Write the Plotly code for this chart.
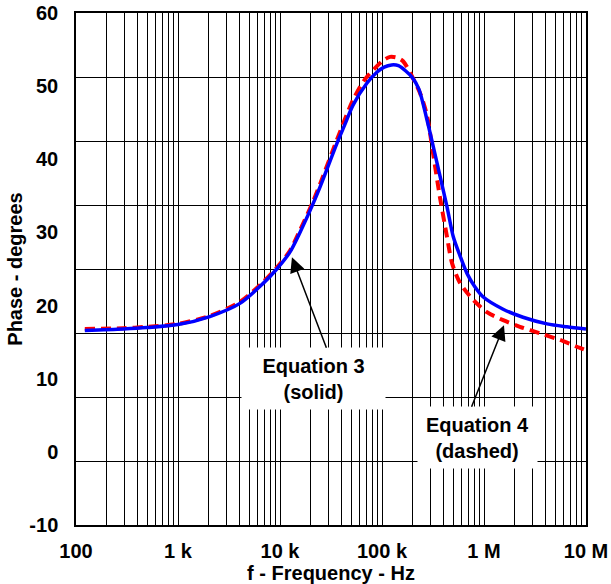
import numpy as np
import plotly.graph_objects as go

# ---- data ----
freq_eq3 = [122, 290, 500, 1000, 2050, 4050, 6800, 9300, 12500, 15700, 21200, 25000,
            36000, 43400, 52000, 71000, 89000, 105000, 124000, 145000, 170000, 200000,
            230000, 276000, 346000, 434000, 500000, 582000, 681000, 810000, 977000,
            1540000, 2410000, 4150000, 6500000, 10000000]
phase_eq3 = [16.6, 16.8, 17.0, 17.4, 18.5, 20.3, 23.0, 25.0, 27.3, 30.0, 34.0, 36.4,
             42.1, 44.8, 47.4, 50.4, 51.9, 52.6, 52.9, 52.8, 52.1, 51.1,
             49.6, 45.4, 39.5, 33.5, 29.4, 26.8, 24.4, 22.6, 21.2,
             19.5, 18.4, 17.5, 17.1, 16.8]

freq_eq4 = [122, 290, 500, 1000, 2050, 4050, 6800, 9300, 12500, 15700, 21200, 25000,
            36000, 52000, 67700, 88700, 105000, 120000, 140000, 161000, 201000, 240000,
            276000, 316000, 370000, 434000, 486000, 582000, 780000, 1070000, 1540000,
            2250000, 3540000, 5560000, 8730000, 10000000]
phase_eq4 = [16.8, 16.9, 17.1, 17.5, 18.6, 20.5, 23.2, 25.2, 27.5, 30.3, 34.3, 36.8,
             42.6, 48.1, 50.9, 52.7, 53.6, 54.0, 53.9, 53.4, 51.1, 48.8,
             46.0, 40.9, 34.8, 29.4, 25.8, 23.1, 20.8, 19.1, 18.0,
             17.1, 16.2, 15.3, 14.2, 13.9]

x_decades = [100, 1e3, 1e4, 1e5, 1e6, 1e7]
x_labels = ["100", "1 k", "10 k", "100 k", "1 M", "10 M"]
y_label_vals = [-10, 0, 10, 20, 30, 40, 50, 60]
y_label_text = ["-10", "0", "10", "20", "30", "40", "50", "60"]
y_grid_vals = [-10, -1.25, 7.5, 16.25, 25, 33.75, 42.5, 51.25, 60]

# all log gridlines (1..9 per decade), labels only at decades
x_grid_vals, x_grid_text = [], []
for d, lab in zip(x_decades[:-1], x_labels[:-1]):
    for m in range(1, 10):
        x_grid_vals.append(d * m)
        x_grid_text.append(lab if m == 1 else "")
x_grid_vals.append(x_decades[-1])
x_grid_text.append(x_labels[-1])

FONT = "Liberation Sans, Arial, sans-serif"
BOLD20 = dict(size=20, family=FONT, weight="bold", color="black")

fig = go.Figure()
fig.add_trace(go.Scatter(x=freq_eq4, y=phase_eq4, mode="lines", name="Equation 4",
                         line=dict(color="#FF0000", width=4, dash="10px,6px",
                                   shape="spline", smoothing=0.8)))
fig.add_trace(go.Scatter(x=freq_eq3, y=phase_eq3, mode="lines", name="Equation 3",
                         line=dict(color="#0000FF", width=3.5, shape="spline",
                                   smoothing=0.8)))

fig.update_layout(
    width=611, height=584,
    margin=dict(l=76, r=25, t=13, b=59, autoexpand=False),
    paper_bgcolor="white", plot_bgcolor="white",
    showlegend=False,
    font=dict(family=FONT, size=20, color="black", weight="bold"),
    xaxis=dict(type="log", range=[2, 7], tickvals=x_grid_vals, ticktext=x_grid_text,
               showgrid=True, gridcolor="black", gridwidth=1, ticks="",
               showline=True, linecolor="black", linewidth=1.5, mirror=True,
               zeroline=False, ticklabelstandoff=7, automargin=False,
               ticklabeloverflow="allow", tickfont=BOLD20,
               title=dict(text="f - Frequency - Hz", standoff=5, font=BOLD20)),
    yaxis=dict(range=[-10, 60], tickvals=y_label_vals, ticktext=y_label_text,
               showgrid=False, ticks="",
               minor=dict(tickvals=y_grid_vals, showgrid=True, gridcolor="black",
                          gridwidth=1, ticks=""),
               showline=True, linecolor="black", linewidth=1.5, mirror=True,
               zeroline=False, automargin=False, ticklabelstandoff=12,
               ticklabeloverflow="allow", tickfont=BOLD20,
               title=dict(text="Phase - degrees", standoff=1, font=BOLD20)),
)

# text boxes
fig.add_annotation(x=np.log10(21300), y=10.0, xref="x", yref="y",
                   text="Equation 3<br>(solid)", showarrow=False,
                   bgcolor="white", width=141, height=59, font=BOLD20)
fig.add_annotation(x=np.log10(863000), y=2.0, xref="x", yref="y",
                   text="Equation 4<br>(dashed)", showarrow=False,
                   bgcolor="white", width=117, height=59, font=BOLD20)
# arrows
fig.add_annotation(x=np.log10(13100), y=26.6, xref="x", yref="y", text="",
                   showarrow=True, ax=35, ay=92, arrowhead=2, arrowsize=2.0,
                   arrowwidth=1.5, arrowcolor="black")
fig.add_annotation(x=np.log10(1570000), y=17.3, xref="x", yref="y", text="",
                   showarrow=True, ax=-33, ay=83, arrowhead=2, arrowsize=2.0,
                   arrowwidth=1.5, arrowcolor="black")

# remove the default page margin so the 611x584 figure fills the window exactly
fig.write_html("out.html", config={"displayModeBar": False},
               post_script="document.body.style.margin='0px';"
                           "document.body.style.overflow='hidden';")
